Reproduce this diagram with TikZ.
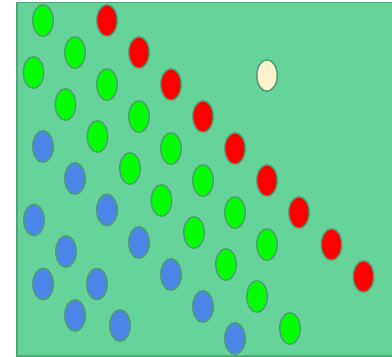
\documentclass[tikz,border=0pt]{standalone}
\usetikzlibrary{shapes.geometric}
\definecolor{bgfill}{HTML}{66D39A}
\definecolor{bgline}{HTML}{52A57D}
\definecolor{dotline}{HTML}{4F9E74}
\definecolor{gdot}{HTML}{00FF00}
\definecolor{rdot}{HTML}{FF0000}
\definecolor{bdot}{HTML}{4A86E8}
\definecolor{cdot}{HTML}{FFF2CC}
\tikzset{
  dot/.style={ellipse, draw=dotline, line width=1.5pt, minimum width=20.5pt, minimum height=31.5pt, inner sep=0pt},
  gd/.style={dot, fill=gdot},
  rd/.style={dot, fill=rdot},
  bd/.style={dot, fill=bdot},
  cd/.style={dot, fill=cdot}
}
\begin{document}
\begin{tikzpicture}[x=1pt,y=-1pt]
\useasboundingbox (0,0) rectangle (392,357);
\path[fill=bgfill, draw=bgline, line width=1.5pt] (17,2.5) rectangle (396,356);
% green
\node[gd] (g1) at (43,20.5) {};
\node[gd] (g2) at (75,52.5) {};
\node[gd] (g3) at (33.5,72.5) {};
\node[gd] (g4) at (107,84.5) {};
\node[gd] (g5) at (65.5,104.5) {};
\node[gd] (g6) at (139,116.5) {};
\node[gd] (g7) at (97.5,136.5) {};
\node[gd] (g8) at (171,148.5) {};
\node[gd] (g9) at (130,168.5) {};
\node[gd] (g10) at (203,180.5) {};
\node[gd] (g11) at (161.5,200.5) {};
\node[gd] (g12) at (235,212.5) {};
\node[gd] (g13) at (194,232.5) {};
\node[gd] (g14) at (267,244.5) {};
\node[gd] (g15) at (226,264.5) {};
\node[gd] (g16) at (257,296.5) {};
\node[gd] (g17) at (290,328.5) {};
% red
\node[rd] (r1) at (107,20.5) {};
\node[rd] (r2) at (139,52.5) {};
\node[rd] (r3) at (171,84.5) {};
\node[rd] (r4) at (203,116.5) {};
\node[rd] (r5) at (235,148.5) {};
\node[rd] (r6) at (267,180.5) {};
\node[rd] (r7) at (299,212.5) {};
\node[rd] (r8) at (331.5,244.5) {};
\node[rd] (r9) at (363.5,276.5) {};
% cream
\node[cd] (c1) at (267,75.5) {};
% blue
\node[bd] (b1) at (43,146.5) {};
\node[bd] (b2) at (75,178.5) {};
\node[bd] (b3) at (34,220) {};
\node[bd] (b4) at (107,210) {};
\node[bd] (b5) at (66,251.5) {};
\node[bd] (b6) at (139,242.5) {};
\node[bd] (b7) at (43,284) {};
\node[bd] (b8) at (97,284) {};
\node[bd] (b9) at (171,274.5) {};
\node[bd] (b10) at (75,315.5) {};
\node[bd] (b11) at (120,325.5) {};
\node[bd] (b12) at (203,306.5) {};
\node[bd] (b13) at (235,338.5) {};
\end{tikzpicture}
\end{document}
